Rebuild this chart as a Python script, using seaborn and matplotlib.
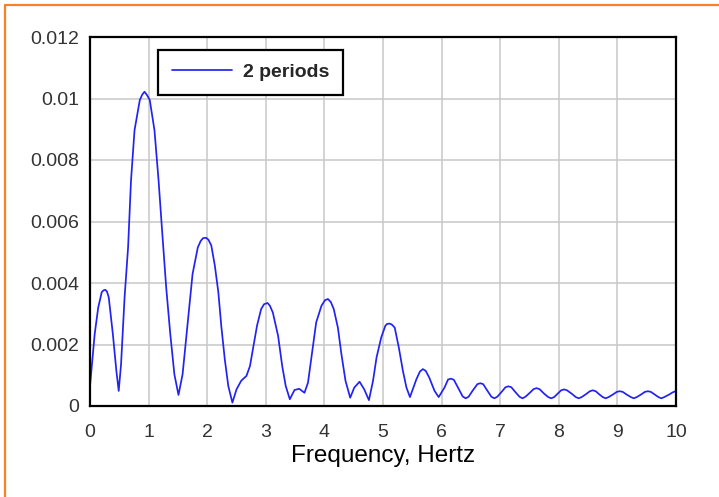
import matplotlib
matplotlib.use("Agg")
import matplotlib.pyplot as plt
from matplotlib.lines import Line2D
import seaborn as sns
import pandas as pd

# Frequency (Hz) and amplitude values
freq = [0.0, 0.08, 0.14, 0.20, 0.23, 0.26, 0.29, 0.32, 0.39, 0.45, 0.49,
        0.53, 0.59, 0.65, 0.70, 0.76, 0.85, 0.89, 0.93, 0.97, 1.02, 1.10, 1.17, 1.23, 1.30, 1.37, 1.44, 1.51,
        1.58, 1.67, 1.75, 1.84, 1.89, 1.93, 1.98, 2.02, 2.07, 2.13, 2.19, 2.24, 2.30, 2.36, 2.43,
        2.50, 2.58, 2.67, 2.73, 2.78, 2.85, 2.92, 2.97, 3.03, 3.07, 3.12, 3.21, 3.28, 3.34, 3.41,
        3.49, 3.57, 3.66, 3.72, 3.79, 3.86, 3.95, 4.01, 4.06, 4.11, 4.16, 4.23, 4.29, 4.36, 4.44,
        4.51, 4.60, 4.68, 4.76, 4.83, 4.89, 4.97, 5.04, 5.07, 5.11, 5.15, 5.20, 5.27, 5.34, 5.40, 5.46,
        5.57, 5.63, 5.68, 5.73, 5.79, 5.88, 5.95, 6.05, 6.11, 6.16, 6.21, 6.28, 6.36, 6.41, 6.46,
        6.53, 6.61, 6.66, 6.71, 6.78, 6.85, 6.90, 6.95, 7.02, 7.09, 7.14, 7.19, 7.26, 7.33, 7.38, 7.43,
        7.50, 7.57, 7.62, 7.67, 7.75, 7.82, 7.87, 7.92, 7.98, 8.04, 8.09, 8.14, 8.22, 8.29, 8.34, 8.39,
        8.46, 8.53, 8.58, 8.63, 8.69, 8.75, 8.80, 8.85, 8.92, 8.99, 9.04, 9.09, 9.16, 9.23, 9.28, 9.33,
        9.40, 9.47, 9.52, 9.57, 9.64, 9.70, 9.75, 9.80, 9.88, 9.94, 10.0]
amplitude = [0.00065, 0.00234, 0.0032, 0.0037, 0.00376, 0.00378, 0.00372, 0.00353, 0.00234, 0.00114, 0.00049,
             0.00136, 0.00353, 0.00516, 0.00734, 0.00897, 0.00995, 0.01012, 0.01022, 0.01012, 0.00995, 0.00897, 0.00734, 0.00571, 0.00386, 0.00234, 0.00103, 0.00036,
             0.00103, 0.00277, 0.00429, 0.00516, 0.00537, 0.00546, 0.00547, 0.00541, 0.00522, 0.00457, 0.0037, 0.00261, 0.00152, 0.00065, 0.00011,
             0.00054, 0.00082, 0.00098, 0.0013, 0.00185, 0.00261, 0.00315, 0.00331, 0.00335, 0.00326, 0.00304, 0.00228, 0.0013, 0.00065, 0.00022,
             0.00052, 0.00056, 0.00043, 0.00076, 0.00174, 0.00272, 0.00326, 0.00344, 0.00348, 0.00338, 0.00315, 0.00255, 0.00169, 0.00082, 0.00027,
             0.0006, 0.00079, 0.00054, 0.00019, 0.00082, 0.00158, 0.00223, 0.00261, 0.00267, 0.00268, 0.00265, 0.00255, 0.0019, 0.00114, 0.0006, 0.00029,
             0.00087, 0.00112, 0.0012, 0.00114, 0.00092, 0.00049, 0.00029, 0.0006, 0.00086, 0.00089, 0.00085, 0.0006, 0.00031, 0.00025, 0.0003,
             0.0005, 0.00071, 0.00074, 0.00071, 0.0005, 0.0003, 0.00025, 0.0003, 0.00045, 0.00061, 0.00064, 0.00061, 0.00045, 0.0003, 0.00025, 0.0003,
             0.00042, 0.00055, 0.00058, 0.00055, 0.0004, 0.00029, 0.00025, 0.00029, 0.0004, 0.00051, 0.00054, 0.00051, 0.0004, 0.00029, 0.00025, 0.00029,
             0.00038, 0.00048, 0.00051, 0.00048, 0.00038, 0.00029, 0.00025, 0.00029, 0.00037, 0.00046, 0.00048, 0.00046, 0.00037, 0.00029, 0.00025, 0.00029,
             0.00037, 0.00046, 0.00048, 0.00046, 0.00037, 0.00029, 0.00025, 0.00029, 0.00037, 0.00044, 0.00049]

x_ticks = [0, 1, 2, 3, 4, 5, 6, 7, 8, 9, 10]
y_ticks = [0, 0.002, 0.004, 0.006, 0.008, 0.01, 0.012]
y_tick_labels = ["0", "0.002", "0.004", "0.006", "0.008", "0.01", "0.012"]
series_name = "2 periods"
x_label = "Frequency, Hertz"

sns.set_theme(style="white")
plt.rcParams['font.family'] = ['Liberation Sans', 'DejaVu Sans']

df = pd.DataFrame({"freq": freq, "amp": amplitude, "series": series_name})

fig = plt.figure(figsize=(7.19, 4.97), dpi=100, facecolor="white")
ax = fig.add_axes([90 / 719, 1 - 406 / 497, (676 - 90) / 719, (406 - 37) / 497])

sns.lineplot(data=df, x="freq", y="amp", hue="series", palette=["#2222f2"],
             sort=False, estimator=None, linewidth=1.25, ax=ax)

ax.set_xlim(0, 10)
ax.set_ylim(0, 0.012)
ax.set_xticks(x_ticks)
ax.set_xticklabels([str(t) for t in x_ticks])
ax.set_yticks(y_ticks)
ax.set_yticklabels(y_tick_labels)
ax.grid(True, color="#c8c8c8", linewidth=1.1)
ax.set_axisbelow(True)
ax.tick_params(axis="x", length=0, pad=13, labelsize=14, labelcolor="#333333")
ax.tick_params(axis="y", length=0, pad=8, labelsize=14, labelcolor="#333333")
for s in ax.spines.values():
    s.set_color("black")
    s.set_linewidth(1.6)
ax.set_ylabel("")
ax.set_xlabel(x_label, fontsize=17.5, color="black", labelpad=3)

leg = ax.legend(loc="upper left", bbox_to_anchor=((158 - 90) / 586, (406 - 50) / 369),
                borderaxespad=0, frameon=True, fancybox=False, handlelength=3.1,
                handletextpad=0.57, borderpad=0.7,
                prop={"weight": "bold", "size": 14})
leg.get_frame().set_edgecolor("black")
leg.get_frame().set_linewidth(1.6)
leg.get_frame().set_alpha(1)
leg.set_title(None)

# orange outer frame (top and left)
fig.add_artist(Line2D([5 / 719, 1], [1 - 5 / 497, 1 - 5 / 497], transform=fig.transFigure,
                      color="#ff7f27", linewidth=1.6))
fig.add_artist(Line2D([5 / 719, 5 / 719], [0, 1 - 5 / 497], transform=fig.transFigure,
                      color="#ff7f27", linewidth=1.6))

fig.savefig("out.png", dpi=100, facecolor="white")
